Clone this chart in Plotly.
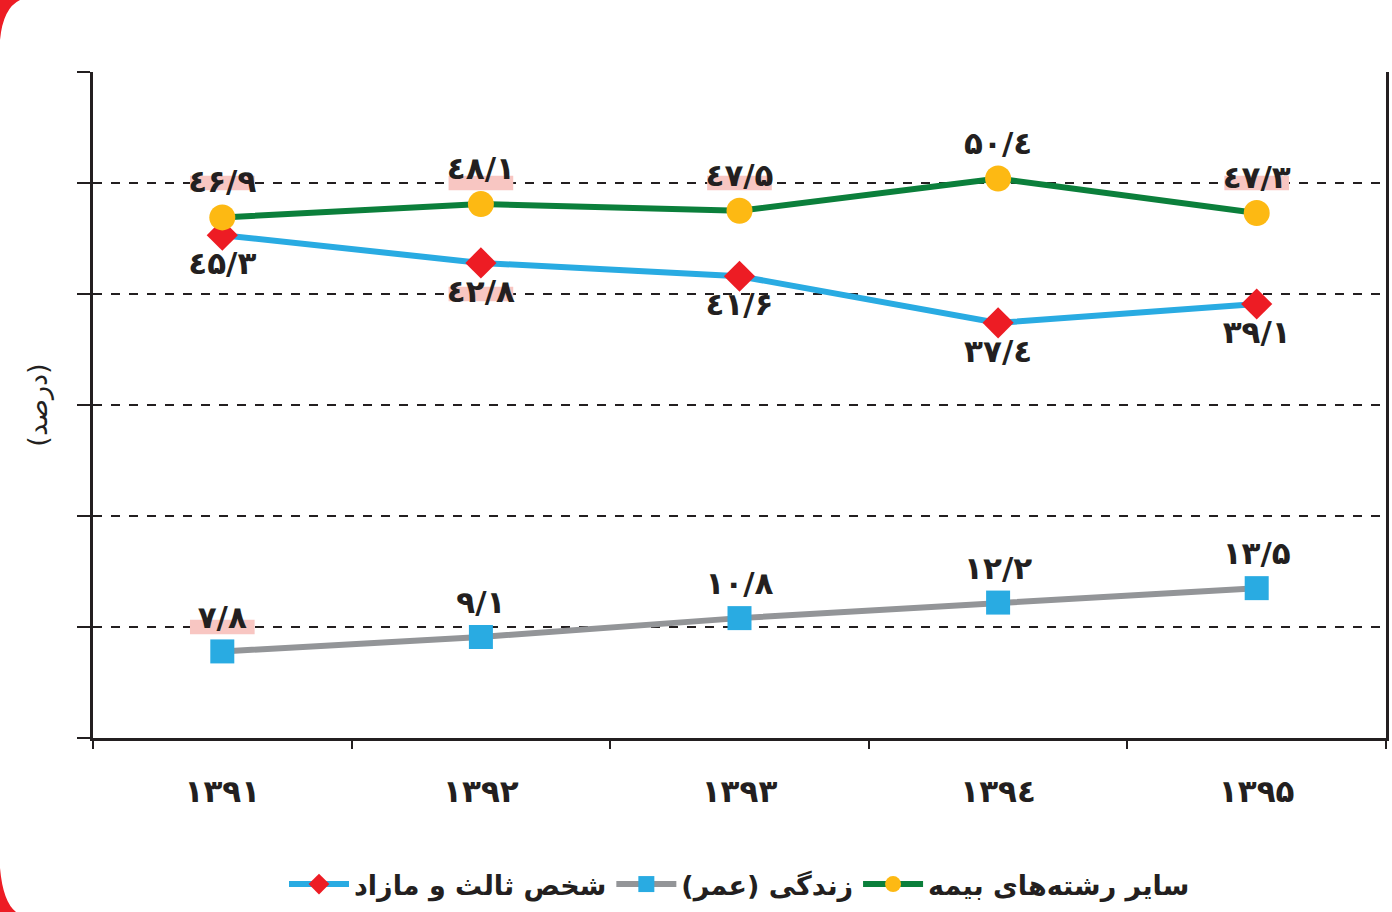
import plotly.graph_objects as go

years = ["۱۳۹۱", "۱۳۹۲", "۱۳۹۳", "۱۳٩٤", "۱۳۹۵"]

other_name = "سایر رشته‌های بیمه"
other_vals = [46.9, 48.1, 47.5, 50.4, 47.3]
other_text = ["٤۶/۹", "٤۸/۱", "٤۷/۵", "۵۰/٤", "٤۷/۳"]

third_name = "شخص ثالث و مازاد"
third_vals = [45.3, 42.8, 41.6, 37.4, 39.1]
third_text = ["٤۵/۳", "٤۲/۸", "٤۱/۶", "۳۷/٤", "۳۹/۱"]

life_name = "زندگی (عمر)"
life_vals = [7.8, 9.1, 10.8, 12.2, 13.5]
life_text = ["۷/۸", "۹/۱", "۱۰/۸", "۱۲/۲", "۱۳/۵"]

# labels that sit on a gridline get a pink band behind them
highlight = [("other", 0), ("other", 1), ("other", 2), ("other", 4),
             ("third", 1), ("life", 0)]

FONT = "DejaVu Sans"
L, R, T, B = 93, 3, 72, 174
LABEL_SIZE = 31

fig = go.Figure()

fig.add_trace(go.Scatter(
    x=years, y=third_vals, name=third_name, mode="lines+markers+text",
    line=dict(color="#29ABE2", width=6),
    marker=dict(symbol="diamond", size=24, color="#ED1C24"),
    text=third_text, textposition="bottom center",
    textfont=dict(family=FONT, size=LABEL_SIZE, color="#231F20", weight="bold"),
))
fig.add_trace(go.Scatter(
    x=years, y=life_vals, name=life_name, mode="lines+markers+text",
    line=dict(color="#939598", width=6),
    marker=dict(symbol="square", size=24, color="#29ABE2"),
    text=life_text, textposition="top center",
    textfont=dict(family=FONT, size=LABEL_SIZE, color="#231F20", weight="bold"),
))
fig.add_trace(go.Scatter(
    x=years, y=other_vals, name=other_name, mode="lines+markers+text",
    line=dict(color="#0B7F3B", width=6),
    marker=dict(symbol="circle", size=26, color="#FDB913"),
    text=other_text, textposition="top center",
    textfont=dict(family=FONT, size=LABEL_SIZE, color="#231F20", weight="bold"),
))

series = {"other": other_vals, "third": third_vals, "life": life_vals}
shapes = []
for key, i in highlight:
    g = round(series[key][i] / 10) * 10
    shapes.append(dict(type="rect", xref="x", yref="y", layer="between",
                       x0=i - 0.125, x1=i + 0.125, y0=g - 0.65, y1=g + 0.65,
                       fillcolor="#F8C6C2", line=dict(width=0)))

# red decorative frame corners (pixel-anchored)
shapes.append(dict(type="path", xref="paper", yref="paper", xsizemode="pixel",
                   ysizemode="pixel", xanchor=0, yanchor=1, layer="above",
                   path=f"M{-L},{T} L{-L+20},{T} Q{-L+3},{T-8} {-L},{T-40} Z",
                   fillcolor="#ED1C24", line=dict(width=0)))
shapes.append(dict(type="path", xref="paper", yref="paper", xsizemode="pixel",
                   ysizemode="pixel", xanchor=0, yanchor=0, layer="above",
                   path=f"M{-L},{-B} L{-L+16},{-B} Q{-L+3},{-B+10} {-L},{-B+44} Z",
                   fillcolor="#ED1C24", line=dict(width=0)))

fig.update_layout(
    width=1392, height=912,
    margin=dict(l=L, r=R, t=T, b=B),
    paper_bgcolor="white", plot_bgcolor="white",
    font=dict(family=FONT, color="#231F20"),
    showlegend=True,
    legend=dict(orientation="h", x=0.5, xanchor="center", y=-0.22, yanchor="middle",
                font=dict(family=FONT, size=27, weight="bold", color="#231F20"),
                traceorder="normal", itemwidth=60),
    shapes=shapes,
)

fig.update_xaxes(
    type="category", range=[-0.5, len(years) - 0.5],
    showgrid=False, showline=True, linecolor="#231F20", linewidth=3,
    ticks="outside", tickson="boundaries", ticklen=8, tickwidth=2, tickcolor="#231F20",
    tickfont=dict(family=FONT, size=31, weight="bold", color="#231F20"),
    ticklabelstandoff=24, zeroline=False,
)
fig.update_yaxes(
    range=[0, 60], dtick=10, showticklabels=False,
    showgrid=True, gridcolor="#231F20", griddash="dash", gridwidth=1.5,
    showline=True, linecolor="#231F20", linewidth=3, mirror=True,
    ticks="outside", ticklen=13, tickwidth=2, tickcolor="#231F20",
    zeroline=False,
    title=dict(text="(درصد)", standoff=22,
               font=dict(family=FONT, size=27, color="#231F20")),
)

fig.write_html(
    "out.html",
    config={"displayModeBar": False},
    post_script="document.body.style.margin='0';document.body.style.overflow='hidden';",
)
